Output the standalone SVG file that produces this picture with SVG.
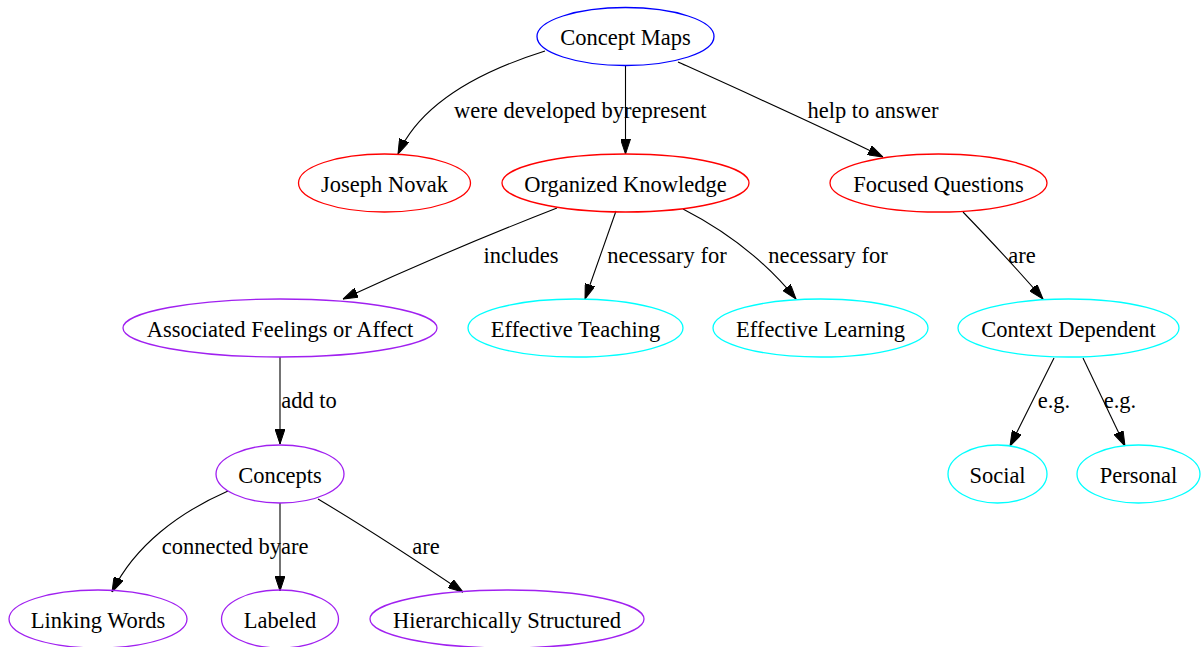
<svg xmlns="http://www.w3.org/2000/svg" width="1201" height="647" viewBox="0 0 1201 647">
<style>
text{font-family:"Liberation Serif","Times New Roman",serif;font-size:22.5px;fill:#000}
.n text{text-anchor:middle}
ellipse{fill:none;stroke-width:1.3}
.blue{stroke:#0000ff}.red{stroke:#ff0000}.cyan{stroke:#00ffff}.purple{stroke:#a020f0}
.e path{fill:none;stroke:#000;stroke-width:1.1;marker-end:url(#ah)}
.lbl{text-anchor:middle}
.end{text-anchor:end}
</style>
<defs>
<marker id="ah" viewBox="0 0 15 10" refX="15" refY="5" markerWidth="15" markerHeight="10" markerUnits="userSpaceOnUse" orient="auto">
<path d="M0,0 L15,5 L0,10 z" fill="#000" stroke="#000"/>
</marker>
</defs>
<rect width="1201" height="647" fill="#fff"/>
<g id="connectors" class="e">
<path d="M545,51 C475,73 420,105 398,154"/>
<path d="M625.5,65 L625.5,154"/>
<path d="M678,62 C740,90 820,126 883,157"/>
<path d="M557,208 C480,238 410,268 343,299"/>
<path d="M616,211 L585,299"/>
<path d="M683,209 C720,228 762,257 796,299"/>
<path d="M963,212 C990,240 1018,270 1043,299"/>
<path d="M280,357 L280,444"/>
<path d="M1054,358 L1010,446"/>
<path d="M1083,358 L1125,446"/>
<path d="M228,491 C180,512 135,545 112,592"/>
<path d="M280,503 L280,591"/>
<path d="M318,499 C370,530 420,563 463,592"/>
</g>
<g id="edge-labels">
<text x="624" y="118" class="end">were developed by</text>
<text x="624" y="118">represent</text>
<text x="873" y="118" class="lbl">help to answer</text>
<text x="521" y="263" class="lbl">includes</text>
<text x="667" y="263" class="lbl">necessary for</text>
<text x="828" y="263" class="lbl">necessary for</text>
<text x="1022" y="263" class="lbl">are</text>
<text x="309" y="408" class="lbl">add to</text>
<text x="1054" y="408" class="lbl">e.g.</text>
<text x="1120" y="408" class="lbl">e.g.</text>
<text x="281" y="554" class="end">connected by</text>
<text x="281" y="554">are</text>
<text x="426" y="554" class="lbl">are</text>
</g>
<g id="n-concept-maps" class="n"><ellipse class="blue" cx="625.5" cy="36.5" rx="88.5" ry="29"/><text x="625.5" y="45">Concept Maps</text></g>
<g id="n-joseph-novak" class="n"><ellipse class="red" cx="384.5" cy="183" rx="86" ry="29"/><text x="384.5" y="191.5">Joseph Novak</text></g>
<g id="n-organized-knowledge" class="n"><ellipse class="red" cx="625.5" cy="183" rx="123.5" ry="29"/><text x="625.5" y="191.5">Organized Knowledge</text></g>
<g id="n-focused-questions" class="n"><ellipse class="red" cx="938.5" cy="183" rx="108.5" ry="29"/><text x="938.5" y="191.5">Focused Questions</text></g>
<g id="n-associated-feelings" class="n"><ellipse class="purple" cx="280" cy="328" rx="157" ry="29"/><text x="280" y="336.5">Associated Feelings or Affect</text></g>
<g id="n-effective-teaching" class="n"><ellipse class="cyan" cx="575.5" cy="328" rx="107.5" ry="29"/><text x="575.5" y="336.5">Effective Teaching</text></g>
<g id="n-effective-learning" class="n"><ellipse class="cyan" cx="820.5" cy="328" rx="107.5" ry="29"/><text x="820.5" y="336.5">Effective Learning</text></g>
<g id="n-context-dependent" class="n"><ellipse class="cyan" cx="1068.5" cy="328" rx="110.5" ry="29"/><text x="1068.5" y="336.5">Context Dependent</text></g>
<g id="n-concepts" class="n"><ellipse class="purple" cx="280" cy="474" rx="64" ry="29"/><text x="280" y="482.5">Concepts</text></g>
<g id="n-social" class="n"><ellipse class="cyan" cx="997.5" cy="474" rx="49.5" ry="29"/><text x="997.5" y="482.5">Social</text></g>
<g id="n-personal" class="n"><ellipse class="cyan" cx="1138.5" cy="474" rx="61.5" ry="29"/><text x="1138.5" y="482.5">Personal</text></g>
<g id="n-linking-words" class="n"><ellipse class="purple" cx="98" cy="619" rx="89" ry="29"/><text x="98" y="627.5">Linking Words</text></g>
<g id="n-labeled" class="n"><ellipse class="purple" cx="280" cy="619" rx="58.5" ry="29"/><text x="280" y="627.5">Labeled</text></g>
<g id="n-hierarchically-structured" class="n"><ellipse class="purple" cx="507" cy="619" rx="137" ry="29"/><text x="507" y="627.5">Hierarchically Structured</text></g>
</svg>
